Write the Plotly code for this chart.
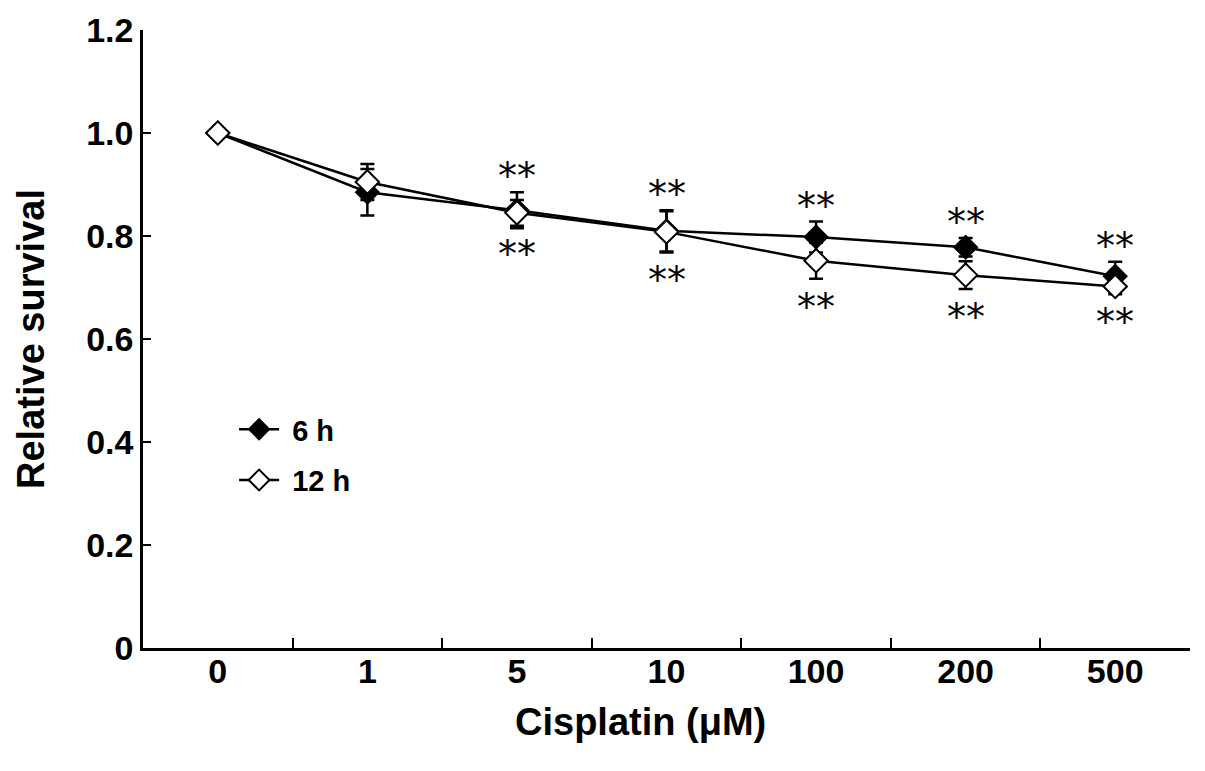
import plotly.graph_objects as go

conc = ['0', '1', '5', '10', '100', '200', '500']
surv_6h = [1.0, 0.885, 0.850, 0.810, 0.798, 0.778, 0.722]
err_6h = [0.0, 0.045, 0.035, 0.040, 0.030, 0.018, 0.028]
surv_12h = [1.0, 0.905, 0.845, 0.808, 0.752, 0.724, 0.702]
err_12h = [0.0, 0.035, 0.025, 0.040, 0.035, 0.027, 0.015]
sig_6h = ['', '', '**', '**', '**', '**', '**']
sig_12h = ['', '', '**', '**', '**', '**', '**']

sans = 'Liberation Sans'
pad = '\u00a0'

fig = go.Figure()
fig.add_trace(go.Scatter(
    x=conc, y=surv_6h, name=pad + '<b>6 h</b>', mode='lines+markers', legendgroup='a',
    line=dict(color='black', width=2.5),
    marker=dict(symbol='diamond', size=18, color='black', line=dict(color='black', width=1.5)),
    error_y=dict(type='data', array=err_6h, color='black', thickness=2.5, width=7),
))
fig.add_trace(go.Scatter(
    x=conc, y=surv_12h, name=pad + '<b>12 h</b>', mode='lines+markers', legendgroup='b',
    line=dict(color='black', width=2.5),
    marker=dict(symbol='diamond', size=18, color='white', line=dict(color='black', width=2)),
    error_y=dict(type='data', array=err_12h, color='black', thickness=2.5, width=7),
))

# significance marks, indexed by category position
for i, (v, e, s) in enumerate(zip(surv_6h, err_6h, sig_6h)):
    if s:
        fig.add_annotation(x=i, y=v + e, text=s, showarrow=False, yshift=16,
                           font=dict(family='DejaVu Sans', size=38, color='black'))
for i, (v, e, s) in enumerate(zip(surv_12h, err_12h, sig_12h)):
    if s:
        fig.add_annotation(x=i, y=v - e, text=s, showarrow=False, yshift=-28,
                           font=dict(family='DejaVu Sans', size=38, color='black'))

fig.add_annotation(xref='paper', yref='paper', x=0.475, y=-0.12, yanchor='middle',
                   text='<b>Cisplatin (μM)</b>', showarrow=False,
                   font=dict(family=sans, size=38, color='black'))

fig.update_layout(
    width=1205, height=771,
    paper_bgcolor='white', plot_bgcolor='white',
    margin=dict(l=135, r=23, t=22, b=131),
    font=dict(family=sans, color='black'),
    legend=dict(x=0.087, y=0.395, xanchor='left', yanchor='top',
                font=dict(family=sans, size=29, color='black'),
                bgcolor='rgba(0,0,0,0)', tracegroupgap=10, itemwidth=40),
    xaxis=dict(
        type='category', tickson='boundaries', ticks='inside', ticklen=10, tickwidth=2,
        tickcolor='black', showline=True, linecolor='black', linewidth=2.5,
        showgrid=False, range=[-0.5, 6.5], automargin=False, ticklabelstandoff=-9,
        tickfont=dict(family=sans, size=34, color='black'),
        tickvals=conc, ticktext=['<b>%s</b>' % c for c in conc],
    ),
    yaxis=dict(
        range=[0, 1.2], tickvals=[0, 0.2, 0.4, 0.6, 0.8, 1.0, 1.2],
        ticktext=['<b>0</b>', '<b>0.2</b>', '<b>0.4</b>', '<b>0.6</b>', '<b>0.8</b>', '<b>1.0</b>', '<b>1.2</b>'],
        ticks='inside', ticklen=8, tickwidth=2, tickcolor='black',
        showline=True, linecolor='black', linewidth=2.5, showgrid=False, zeroline=False,
        automargin=False,
        tickfont=dict(family=sans, size=34, color='black'),
        title=dict(text='<b>Relative survival</b>', font=dict(family=sans, size=38), standoff=30),
    ),
)

fig.write_html('out.html')
